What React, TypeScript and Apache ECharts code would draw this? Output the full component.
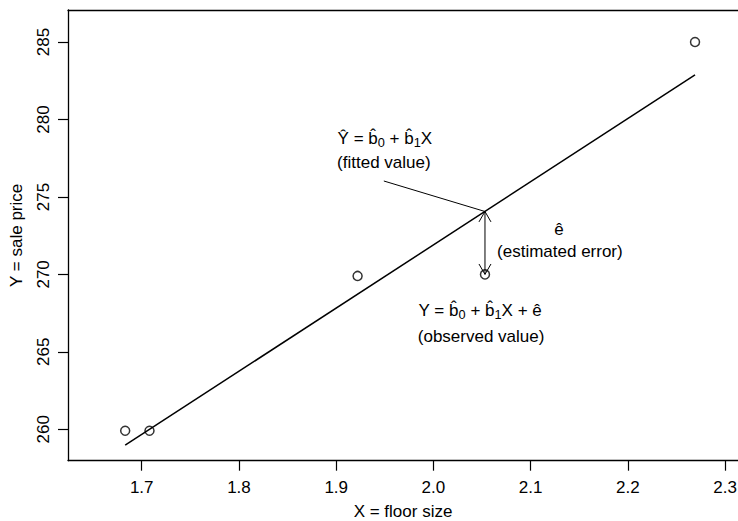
import React, { useEffect, useRef } from "react";
import * as echarts from "echarts";

// Observed data (floor size in 1000 sq ft, sale price in $1000)
const floorSize = [1.683, 1.708, 1.922, 2.053, 2.269];
const salePrice = [259.9, 259.9, 269.9, 270.0, 285.0];

// Fitted regression line end points
const fitX = [1.683, 2.269];
const fitY = [258.97, 282.88];

// Highlighted observation and its fitted value
const focusX = 2.053;
const focusObserved = 270.0;
const focusFitted = 274.06;

// Tick labels
const xTicks = [1.7, 1.8, 1.9, 2.0, 2.1, 2.2, 2.3];
const yTicks = [260, 265, 270, 275, 280, 285];

// Axis ranges
const xRange = [1.6242, 2.3132];
const yRange = [257.97, 287.07];

// Annotation anchors in data coordinates
const fittedEqAt = [1.95, 278.8];
const fittedLabelAt = [1.949, 277.2];
const fittedPointerFrom = [1.949, 276.03];
const errHatAt = [2.129, 272.9];
const errLabelAt = [2.13, 271.5];
const obsEqAt = [2.048, 267.7];
const obsLabelAt = [2.049, 265.97];

const FONT = "'Liberation Sans', Arial, Helvetica, sans-serif";
const FS = 17;

export default function App() {
  const ref = useRef<HTMLDivElement>(null);

  useEffect(() => {
    if (!ref.current) return;
    const chart = echarts.init(ref.current, null, { renderer: "svg" });

    const textStyleBase = { fontFamily: FONT, fontSize: FS, fill: "#000" };
    const rich = {
      t: { fontFamily: FONT, fontSize: FS, color: "#000" },
      s: { fontFamily: FONT, fontSize: FS * 0.75, color: "#000", verticalAlign: "bottom", padding: [8, 0, 0, 0] },
    };

    const renderAnnotations = (_params: any, api: any) => {
      const p = (v: number[]) => api.coord(v);
      const top = p([focusX, focusFitted]);
      const bot = p([focusX, focusObserved]);
      const from = p(fittedPointerFrom);
      const headLen = 12;
      const ang = (30 * Math.PI) / 180;
      const head = (tip: number[], dir: number) => {
        const dx = headLen * Math.sin(ang);
        const dy = headLen * Math.cos(ang) * -dir;
        return {
          type: "polyline",
          shape: { points: [[tip[0] - dx, tip[1] + dy], tip, [tip[0] + dx, tip[1] + dy]] },
          style: { stroke: "#000", lineWidth: 1, fill: null },
        };
      };
      const txt = (pos: number[], text: string) => {
        const c = p(pos);
        return {
          type: "text",
          x: c[0],
          y: c[1],
          style: { ...textStyleBase, text, align: "center", verticalAlign: "middle", rich },
        };
      };
      return {
        type: "group",
        children: [
          {
            type: "line",
            shape: { x1: from[0], y1: from[1], x2: top[0], y2: top[1] },
            style: { stroke: "#000", lineWidth: 1 },
          },
          {
            type: "line",
            shape: { x1: top[0], y1: top[1], x2: bot[0], y2: bot[1] },
            style: { stroke: "#000", lineWidth: 1 },
          },
          head(top, -1),
          head(bot, 1),
          txt(fittedEqAt, "{t|Ŷ = b̂}{s|0}{t| + b̂}{s|1}{t|X}"),
          txt(fittedLabelAt, "(fitted value)"),
          txt(errHatAt, "ê"),
          txt(errLabelAt, "(estimated error)"),
          txt(obsEqAt, "{t|Y = b̂}{s|0}{t| + b̂}{s|1}{t|X + ê}"),
          txt(obsLabelAt, "(observed value)"),
        ],
      };
    };

    const lineBlack = { color: "#000", width: 1.3 };
    const axisCommon = {
      type: "value" as const,
      splitLine: { show: false },
      axisLine: { show: true, onZero: false, lineStyle: lineBlack },
      axisTick: { show: true, length: 10, lineStyle: { color: "#000", width: 1.2 } },
      nameTextStyle: { fontFamily: FONT, fontSize: FS, color: "#000" },
    };

    chart.setOption({
      animation: false,
      backgroundColor: "#fff",
      grid: {
        left: 68,
        right: 0,
        top: 10,
        bottom: 60.3,
        show: false,
        containLabel: false,
        outerBoundsMode: "none",
      },
      xAxis: [
        {
          ...axisCommon,
          position: "bottom",
          min: xRange[0],
          max: xRange[1],
          name: "X = floor size",
          nameLocation: "middle",
          nameGap: 42,
          axisTick: { ...axisCommon.axisTick, customValues: xTicks },
          axisLabel: {
            customValues: xTicks,
            formatter: (v: number) => v.toFixed(1),
            fontFamily: FONT,
            fontSize: FS,
            color: "#000",
            margin: 18,
          },
        },
        {
          type: "value",
          position: "top",
          min: xRange[0],
          max: xRange[1],
          splitLine: { show: false },
          axisLine: { show: true, onZero: false, lineStyle: lineBlack },
          axisTick: { show: false },
          axisLabel: { show: false },
        },
      ],
      yAxis: {
        ...axisCommon,
        min: yRange[0],
        max: yRange[1],
        name: "Y = sale price",
        nameLocation: "middle",
        nameGap: 43,
        axisTick: { ...axisCommon.axisTick, customValues: yTicks },
        axisLabel: {
          customValues: yTicks,
          formatter: (v: number) => String(v),
          rotate: 90,
          fontFamily: FONT,
          fontSize: FS,
          color: "#000",
          margin: 16,
        },
      },
      series: [
        {
          type: "line",
          data: fitX.map((x, i) => [x, fitY[i]]),
          symbol: "none",
          lineStyle: { color: "#000", width: 1.5 },
        },
        {
          type: "scatter",
          data: floorSize.map((x, i) => [x, salePrice[i]]),
          symbol: "circle",
          symbolSize: 9,
          itemStyle: { color: "rgba(0,0,0,0)", borderColor: "#000", borderWidth: 1.5 },
        },
        {
          type: "custom",
          data: [[0]],
          renderItem: renderAnnotations,
          silent: true,
        },
      ],
    });

    return () => chart.dispose();
  }, []);

  return (
    <div
      ref={ref}
      style={{ position: "absolute", left: 0, top: 0, width: 738, height: 521 }}
    />
  );
}
